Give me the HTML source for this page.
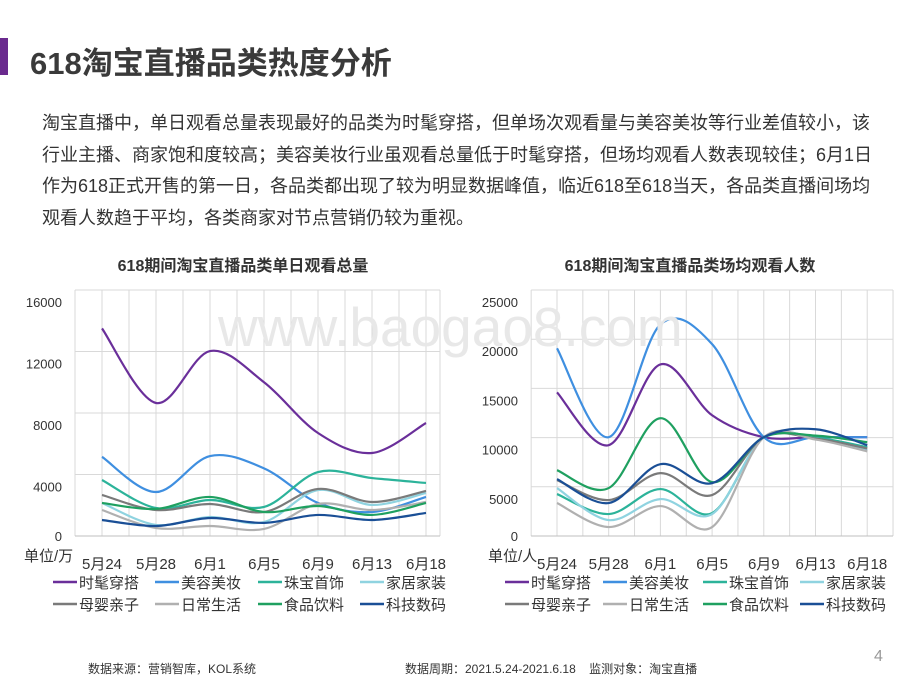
<!DOCTYPE html>
<html><head><meta charset="utf-8">
<style>
body{margin:0;width:920px;height:690px;background:#fff;overflow:hidden;font-family:"Liberation Sans","Noto Sans CJK SC",sans-serif;position:relative}
.abs{position:absolute}
</style></head><body>
<div class="abs" style="left:0;top:38px;width:8px;height:37px;background:#6a2a8e"></div>
<div class="abs" style="left:30px;top:38px;font-size:31px;font-weight:bold;color:#3a3a3a">618淘宝直播品类热度分析</div>
<div class="abs" style="left:42px;top:108px;width:840px;font-size:18px;line-height:31.7px;color:#333">淘宝直播中，单日观看总量表现最好的品类为时髦穿搭，但单场次观看量与美容美妆等行业差值较小，该行业主播、商家饱和度较高；美容美妆行业虽观看总量低于时髦穿搭，但场均观看人数表现较佳；6月1日作为618正式开售的第一日，各品类都出现了较为明显数据峰值，临近618至618当天，各品类直播间场均观看人数趋于平均，各类商家对节点营销仍较为重视。</div>
<svg class="abs" style="left:0;top:0" width="920" height="690" id="svg"></svg>
<div class="abs" style="left:218px;top:295px;font-size:55px;color:#e8e8e8;letter-spacing:0px">www.baogao8.com</div>
<div class="abs" style="left:88px;top:660px;font-size:12px;color:#333">数据来源：营销智库，KOL系统</div>
<div class="abs" style="left:405px;top:660px;font-size:12px;color:#333">数据周期：2021.5.24-2021.6.18&nbsp;&nbsp;&nbsp;&nbsp;监测对象：淘宝直播</div>
<div class="abs" style="left:874px;top:648px;font-size:16px;color:#999">4</div>
<script>
const categories=["5月24","5月28","6月1","6月5","6月9","6月13","6月18"];
const seriesNames=["时髦穿搭","美容美妆","珠宝首饰","家居家装","母婴亲子","日常生活","食品饮料","科技数码"];
const colors=["#6a2f9a","#3f8fe0","#2cb39a","#8fd3e0","#7a7a7a","#b0b0b0","#1fa060","#1a4f96"];
const leftTicks=[0,4000,8000,12000,16000];
const rightTicks=[0,5000,10000,15000,20000,25000];
const left_fashion=[13500,8650,12030,10000,6700,5400,7350];
const left_beauty=[5150,2860,5200,4400,2150,1560,2540];
const left_jewelry=[3640,1820,2340,1890,4160,3770,3450];
const left_home=[2150,720,1240,910,2990,2020,2800];
const left_baby=[2670,1690,2080,1560,3060,2210,2930];
const left_daily=[1690,520,650,460,2080,1690,2210];
const left_food=[2150,1760,2540,1560,1950,1370,2150];
const left_tech=[1040,650,1170,850,1370,1040,1500];
const right_fashion=[14600,9230,17440,12270,10040,10040,10040];
const right_beauty=[19070,10040,21500,19500,10040,10040,10040];
const right_jewelry=[4260,2230,4770,2330,10040,10000,9030];
const right_home=[4870,1620,3750,2230,10040,9900,8720];
const right_baby=[5680,3650,6390,4160,10040,9900,8900];
const right_daily=[3350,910,3040,910,10040,9800,8600];
const right_food=[6690,4870,11970,5480,10040,10200,9530];
const right_tech=[5780,3350,7300,5370,10040,10850,9230];
const leftSeries=[left_fashion,left_beauty,left_jewelry,left_home,left_baby,left_daily,left_food,left_tech];
const rightSeries=[right_fashion,right_beauty,right_jewelry,right_home,right_baby,right_daily,right_food,right_tech];

const NS="http://www.w3.org/2000/svg";
const svg=document.getElementById('svg');
function mk(tag,attrs,parent){const e=document.createElementNS(NS,tag);for(const k in attrs)e.setAttribute(k,attrs[k]);(parent||svg).appendChild(e);return e;}
function smooth(pts){let d=`M${pts[0][0]},${pts[0][1]}`;for(let i=0;i<pts.length-1;i++){const p0=pts[Math.max(i-1,0)],p1=pts[i],p2=pts[i+1],p3=pts[Math.min(i+2,pts.length-1)];const c1=[p1[0]+(p2[0]-p0[0])/6,p1[1]+(p2[1]-p0[1])/6],c2=[p2[0]-(p3[0]-p1[0])/6,p2[1]-(p3[1]-p1[1])/6];d+=` C${c1[0]},${c1[1]} ${c2[0]},${c2[1]} ${p2[0]},${p2[1]}`;}return d;}
function chart(cfg){
  const g=mk('g',{});
  
  
  const t=mk('text',{x:cfg.titleX,y:271,'text-anchor':'middle','font-size':16,'font-weight':'bold',fill:'#333'},g);t.textContent=cfg.title;
  
  
  const x=i=>cfg.x0+i*cfg.step;
  const y=v=>cfg.yBase-v/cfg.yMax*(cfg.yBase-cfg.yTop);
  for(let gx=cfg.x0-cfg.step/2;gx<=cfg.right+0.5;gx+=cfg.step/2) mk('line',{x1:gx,x2:gx,y1:cfg.yTop,y2:cfg.yBase,stroke:'#d9d9d9','stroke-width':1},g);
  mk('line',{x1:cfg.right,x2:cfg.right,y1:cfg.yTop,y2:cfg.yBase,stroke:'#d9d9d9'},g);
  cfg.ticks.forEach(v=>{mk('line',{x1:cfg.x0-cfg.step/2,x2:cfg.right,y1:y(v),y2:y(v),stroke:'#d9d9d9'},g);
    const cy=v===0?y(v):y(v)+12;
    const l=mk('text',{x:cfg.labelX,y:cy+5,'text-anchor':'end','font-size':13,fill:'#333'},g);l.textContent=v;
    
    });
  mk('line',{x1:cfg.x0-cfg.step/2,x2:cfg.right,y1:cfg.yBase,y2:cfg.yBase,stroke:'#bfbfbf'},g);
  categories.forEach((c,i)=>{const l=mk('text',{x:x(i),y:569,'text-anchor':'middle','font-size':15,fill:'#333'},g);l.textContent=c;
    
    });
  const u=mk('text',{x:cfg.unitX,y:561,'font-size':15,fill:'#333'},g);u.textContent=cfg.unit;
  
  
  cfg.series.forEach((s,k)=>{const p=mk('path',{d:smooth(s.map((v,i)=>[x(i),y(v)])),fill:'none',stroke:colors[k],'stroke-width':2.2},g);
    
    });
  seriesNames.forEach((n,k)=>{const lx=cfg.legX[k%4],ly=k<4?582:604;
    const lg=mk('g',{},g);
    
    
    mk('line',{x1:lx,x2:lx+24,y1:ly,y2:ly,stroke:colors[k],'stroke-width':2.5},lg);
    const tt=mk('text',{x:lx+26,y:ly+6,'font-size':15,fill:'#333'},lg);tt.textContent=n;});
}
chart({name:'left-chart',title:'618期间淘宝直播品类单日观看总量',titleX:243,x0:102,step:54,right:440,yBase:536,yTop:290,yMax:16000,ticks:leftTicks,series:leftSeries,labelX:62,unit:'单位/万',unitX:24,legX:[53,155,258,360]});
chart({name:'right-chart',title:'618期间淘宝直播品类场均观看人数',titleX:690,x0:557,step:51.7,right:893,yBase:536,yTop:290,yMax:25000,ticks:rightTicks,series:rightSeries,labelX:518,unit:'单位/人',unitX:488,legX:[505,603,703,800]});
</script>
</body></html>
